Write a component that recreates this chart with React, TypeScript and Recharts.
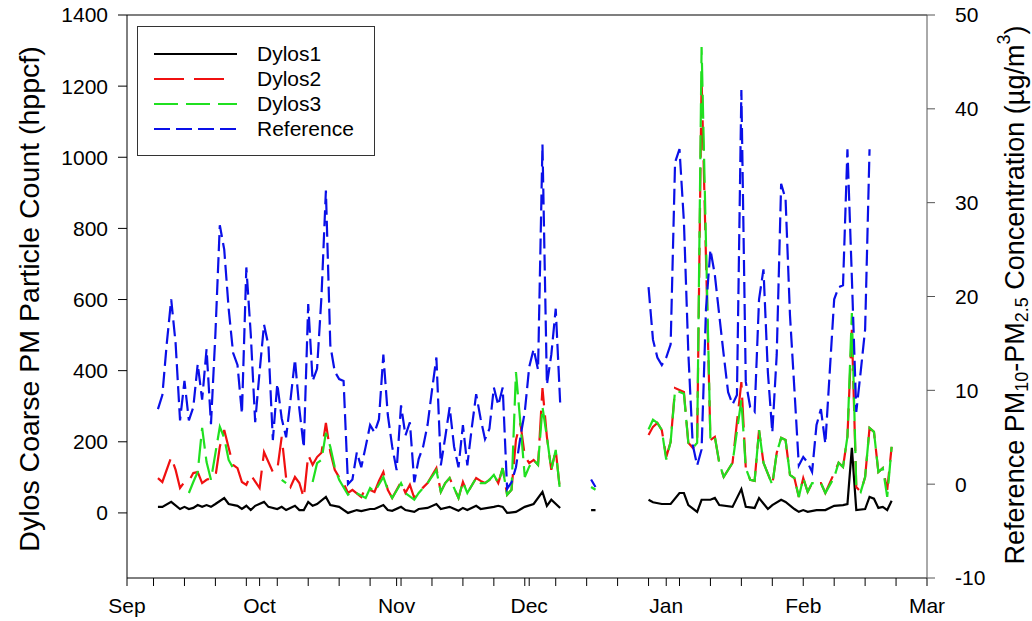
import React from 'react'
import { LineChart, Line, XAxis, YAxis, ReferenceLine } from 'recharts'

type Pt = [number, number | null]

const FONT = '"Liberation Sans", Arial, sans-serif'

// x values are days counted from Sep 1
const monthDays = [0, 30, 61, 91, 122, 153, 181]
const monthLabels = ['Sep', 'Oct', 'Nov', 'Dec', 'Jan', 'Feb', 'Mar']
const weekDays = [6, 13, 20, 27, 34, 41, 48, 55, 62, 69, 76, 83, 90, 97, 104, 111, 118, 125, 132, 139, 146, 153, 160, 167, 174]
const countTicks = [0, 200, 400, 600, 800, 1000, 1200, 1400]
const concTicks = [-10, 0, 10, 20, 30, 40, 50]

// Dylos1 (hppcf)
const dylos1: Pt[] = [
  [7, 17], [8, 17], [10, 31], [12, 11], [13, 17], [14, 11], [15, 14], [16, 22], [17, 17], [18, 22], [19, 17], [20, 25],
  [22, 42], [23, 25], [25, 20], [26, 11], [27, 20], [28, 8], [29, 20], [31, 31], [32, 17], [34, 11], [35, 17], [36, 8],
  [38, 20], [39, 8], [40, 8], [41, 31], [42, 20], [43, 25], [45, 45], [46, 22], [48, 17], [50, 0], [52, 8], [53, 5],
  [55, 11], [56, 11], [58, 22], [59, 8], [60, 6], [62, 17], [63, 8], [65, 3], [66, 11], [68, 14], [70, 25], [71, 11],
  [73, 17], [75, 6], [76, 14], [77, 8], [79, 20], [80, 11], [83, 17], [84, 20], [85, 17], [86, 0], [88, 3], [90, 17],
  [92, 25], [94, 59], [95, 20], [96, 37], [98, 14],
  [100, null], [105, 8], [106, 8], [110, null],
  [118, 37], [119, 30], [121, 25], [123, 25], [125, 56], [126, 56], [127, 22], [129, 3], [130, 37], [132, 37], [133, 42],
  [134, 22], [137, 17], [139, 67], [140, 17], [142, 14], [143, 42], [145, 11], [146, 22], [148, 37], [149, 31], [151, 11],
  [152, 3], [153, 8], [154, 3], [156, 8], [158, 8], [160, 20], [162, 22], [163, 25], [164, 183], [165, 8], [167, 11],
  [168, 45], [169, 40], [170, 14], [171, 17], [172, 8], [173, 34],
]

// Dylos2 (hppcf)
const dylos2: Pt[] = [
  [7, 98], [8, 87], [10, 157], [11, 121], [12, 70], [13, 87], [14, 90], [15, 112], [16, 115], [17, 84], [18, 93], [19, 98],
  [20, 101], [21, 186], [22, 233], [23, 183], [24, 135], [25, 126], [26, 87], [27, 79], [28, 107], [30, 70], [31, 171],
  [33, 115], [34, 121], [35, 214], [36, 98], [37, 73], [38, 101], [39, 84], [40, 42], [41, 163], [42, 135], [43, 157],
  [44, 169], [45, 253], [46, 171], [47, 121], [48, 100], [49, 84], [50, 56], [51, 65], [53, 45], [54, 70], [56, 59],
  [57, 90], [58, 115], [59, 65], [60, 42], [62, 87], [63, 56], [64, 79], [65, 42], [66, 59], [68, 84], [70, 126], [71, 59],
  [72, 84], [73, 98], [75, 42], [76, 87], [77, 56], [79, 98], [80, 90], [81, 84], [82, 93], [83, 107], [84, 84], [85, 126],
  [86, 51], [87, 65], [88, 205], [89, 253], [90, 160], [91, 140], [92, 149], [93, 135], [94, 351], [95, 214], [96, 121],
  [97, 177], [98, 59],
  [100, null],
  [118, 219], [119, 242], [120, 253], [121, 233], [122, 157], [123, 200], [124, 351], [126, 340], [127, 197], [128, 183],
  [129, 197], [130, 1220], [132, 205], [133, 214], [134, 141], [135, 101], [137, 141], [139, 368], [140, 126], [141, 93],
  [142, 90], [143, 233], [144, 141], [146, 79], [147, 169], [148, 211], [149, 205], [150, 107], [151, 98], [152, 45],
  [153, 98], [154, 59], [155, 84], [157, 84], [158, 56], [160, 112], [161, 141], [162, 129], [163, 215], [164, 515],
  [165, 73], [166, 59], [167, 101], [168, 239], [169, 228], [170, 115], [171, 126], [172, 65], [173, 186],
]

// Dylos3 (hppcf)
const dylos3: Pt[] = [
  [14, 56], [15, 87], [16, 115], [17, 239], [18, 143], [19, 93], [21, 242], [22, 211], [23, 149], [24, 126], [25, null],
  [35, 93], [36, 84], [37, null],
  [42, 87], [43, 140], [44, 149], [45, 225], [46, 186], [47, 129], [48, 93], [50, 51], [51, 59], [52, 55], [54, 42],
  [55, 70], [56, 59], [58, 101], [59, 65], [60, 42], [62, 84], [63, 56], [65, 37], [66, 56], [68, 84], [70, 120], [71, 59],
  [72, 84], [73, 98], [75, 42], [76, 87], [77, 56], [79, 98], [80, 84], [81, 84], [82, 93], [83, 107], [84, 84], [85, 126],
  [86, 51], [87, 65], [88, 396], [89, 253], [90, 101], [91, 130], [92, 149], [93, 135], [94, 298], [95, 214], [96, 121],
  [97, 177], [98, 59],
  [100, null], [105, 73], [106, 65], [110, null],
  [118, 235], [119, 262], [120, 253], [121, 233], [122, 150], [123, 200], [124, 345], [126, 335], [127, 197], [128, 183],
  [129, 197], [130, 1310], [132, 205], [133, 214], [134, 141], [135, 101], [137, 141], [139, 318], [140, 126], [141, 93],
  [142, 90], [143, 233], [144, 141], [146, 79], [147, 169], [148, 211], [149, 205], [150, 107], [151, 98], [152, 45],
  [153, 98], [154, 59], [155, 84], [157, 84], [158, 56], [160, 100], [161, 141], [162, 129], [163, 215], [164, 562],
  [165, 73], [166, 59], [167, 101], [168, 239], [169, 228], [170, 115], [171, 126], [172, 45], [173, 186],
]

// Reference PM10-PM2.5 (ug/m3)
const reference: Pt[] = [
  [7, 8], [8, 9.5], [9, 15], [10, 19.7], [11, 15], [12, 6.8], [13, 11], [14, 6.8], [15, 8.2], [16, 12.8], [17, 9],
  [18, 14.4], [19, 6.4], [20, 16], [21, 27.6], [22, 25], [23, 18.7], [24, 14], [25, 12.7], [26, 7.5], [27, 23.1], [28, 16],
  [29, 6.6], [30, 12], [31, 17], [32, 14.8], [33, 4.7], [34, 10.7], [35, 7], [36, 5], [37, 9], [38, 13.3], [39, 8],
  [40, 3.9], [41, 19.2], [42, 11], [43, 12.3], [44, 20], [45, 31.3], [46, 14.8], [47, 12], [48, 11.2], [49, 11], [50, 0],
  [51, 0.5], [52, 3.4], [53, 1.8], [54, 4], [55, 6.3], [56, 5.5], [57, 6.9], [58, 13.8], [59, 7.4], [60, 4], [61, 1.5],
  [62, 8.4], [63, 5.2], [64, 6.6], [65, 0.2], [66, 2.7], [67, 4], [68, 6.3], [69, 10], [70, 13.5], [71, 2], [72, 5],
  [73, 8.2], [74, 4], [75, 1.8], [76, 6.3], [77, 2], [78, 6], [79, 9.6], [80, 7], [81, 4.8], [82, 5.9], [83, 10.3],
  [84, 8.4], [85, 10.3], [86, -0.5], [87, 0.2], [88, 1.8], [89, 5], [90, 7.7], [91, 12.5], [92, 14.4], [93, 12.2],
  [94, 36.2], [95, 10.6], [96, 13.8], [97, 18.7], [98, 8.7],
  [100, null], [105, 0.5], [106, -0.3], [110, null],
  [118, 21], [119, 15.4], [120, 13.5], [121, 12.7], [122, 13.5], [123, 14.9], [124, 34.3], [125, 35.7], [126, 28],
  [127, 14], [128, 4.2], [129, 2], [130, 3.7], [131, 18.7], [132, 25], [133, 22.3], [134, 18], [135, 13.8], [136, 9.8],
  [137, 8.5], [138, 9.5], [139, 42], [140, 10.9], [141, 8.2], [142, 7.7], [143, 19.7], [144, 22.9], [145, 11.9],
  [146, 5.5], [147, 13.8], [148, 32], [149, 30.4], [150, 18], [151, 10.1], [152, 2], [153, 2.9], [154, 2.3], [155, 1.3],
  [156, 6.3], [157, 8], [158, 4.3], [159, 12], [160, 19.7], [161, 21], [162, 21.2], [163, 35.7], [164, 22], [165, 7.7],
  [166, 12], [167, 16.5], [168, 35.7],
]

const xTicks = Array.from(new Set([...monthDays, ...weekDays])).sort((a, b) => a - b)

const series = [
  { name: 'Dylos1', pts: dylos1, color: '#000000', dash: undefined, axis: 'count', sample: 83 },
  { name: 'Dylos2', pts: dylos2, color: '#f01010', dash: '30 10', axis: 'count', sample: 70 },
  { name: 'Dylos3', pts: dylos3, color: '#20e020', dash: '24 8', axis: 'count', sample: 83 },
  { name: 'Reference', pts: reference, color: '#0a10e8', dash: '16 6', axis: 'conc', sample: 82 },
]

const toRows = (pts: Pt[]) => pts.map(([day, v]) => ({ day, v }))

const tickStyle = { fill: '#000', fontSize: 21, fontFamily: FONT }

const LegendBox = () => (
  <div
    style={{
      position: 'absolute', left: 137, top: 26, width: 236, height: 128,
      border: '1.5px solid #333', background: '#fff', fontFamily: FONT, fontSize: 21,
    }}
  >
    {series.map((s, i) => (
      <div key={s.name} style={{ position: 'absolute', left: 0, top: 14 + i * 25, height: 25, display: 'flex', alignItems: 'center' }}>
        <svg width={112} height={10} style={{ marginLeft: 14 }}>
          <line x1={2} y1={5} x2={2 + s.sample} y2={5} stroke={s.color} strokeWidth={2.2} strokeDasharray={s.dash} />
        </svg>
        <span style={{ marginLeft: -7 }}>{s.name}</span>
      </div>
    ))}
  </div>
)

const AxisTitles = () => (
  <svg width={1032} height={621} style={{ position: 'absolute', left: 0, top: 0, pointerEvents: 'none' }}>
    <text
      transform="translate(29,299) rotate(-90)"
      textAnchor="middle" dominantBaseline="central"
      fontFamily={FONT} fontSize={28.5} fill="#000"
    >
      Dylos Coarse PM Particle Count (hppcf)
    </text>
    <text
      transform="translate(1015,295) rotate(-90)"
      textAnchor="middle" dominantBaseline="central"
      fontFamily={FONT} fontSize={27} fill="#000"
    >
      Reference PM<tspan fontSize={18} dy={7}>10</tspan>
      <tspan dy={-7}>-PM</tspan><tspan fontSize={18} dy={7}>2.5</tspan>
      <tspan dy={-7}> Concentration (µg/m</tspan><tspan fontSize={18} dy={-11}>3</tspan>
      <tspan dy={11}>)</tspan>
    </text>
  </svg>
)

export default function App() {
  return (
    <div style={{ position: 'absolute', left: 0, top: 0, width: 1032, height: 621, background: '#fff' }}>
      <LineChart width={1032} height={621} margin={{ top: 15, right: 45, bottom: 13, left: 67 }}>
        <XAxis
          type="number"
          dataKey="day"
          domain={[0, 181]}
          ticks={xTicks}
          interval={0}
          allowDataOverflow
          tickSize={8}
          tickMargin={12}
          stroke="#000"
          tick={tickStyle}
          tickFormatter={(d: number) => {
            const i = monthDays.indexOf(d)
            return i >= 0 ? monthLabels[i] : ''
          }}
        />
        <YAxis
          yAxisId="count"
          type="number"
          domain={[-183, 1400]}
          ticks={countTicks}
          allowDataOverflow
          width={60}
          tickSize={9}
          tickMargin={10}
          stroke="#000"
          tick={tickStyle}
        />
        <YAxis
          yAxisId="conc"
          orientation="right"
          type="number"
          domain={[-10, 50]}
          ticks={concTicks}
          allowDataOverflow
          width={60}
          tickSize={8}
          tickMargin={20}
          stroke="#555"
          tick={tickStyle}
        />
        <ReferenceLine yAxisId="count" y={1400} stroke="#555" strokeWidth={1.5} />
        {series.map(s => (
          <Line
            key={s.name}
            name={s.name}
            yAxisId={s.axis}
            data={toRows(s.pts)}
            dataKey="v"
            type="linear"
            stroke={s.color}
            strokeWidth={2.2}
            strokeDasharray={s.dash}
            dot={false}
            activeDot={false}
            isAnimationActive={false}
          />
        ))}
      </LineChart>
      <LegendBox />
      <AxisTitles />
    </div>
  )
}
